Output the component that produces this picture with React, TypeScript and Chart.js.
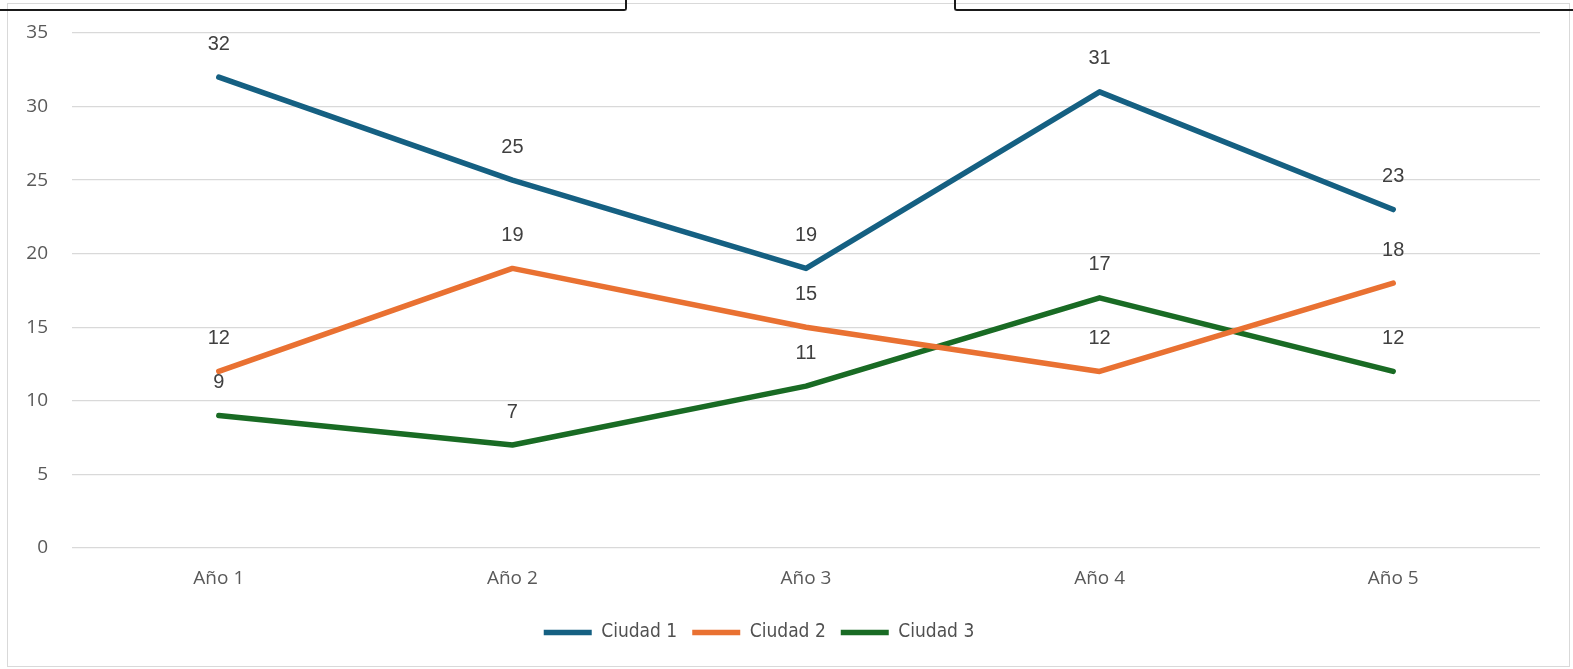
import React, { useEffect, useRef } from "react";
import { Chart, registerables } from "chart.js";

Chart.register(...registerables);

const categories = ["Año 1", "Año 2", "Año 3", "Año 4", "Año 5"];
const ciudad1 = [32, 25, 19, 31, 23];
const ciudad2 = [12, 19, 15, 12, 18];
const ciudad3 = [9, 7, 11, 17, 12];
const seriesNames = ["Ciudad 1", "Ciudad 2", "Ciudad 3"];
const seriesColors = ["#156082", "#E97132", "#196B24"];

const dataLabelPlugin = {
  id: "dataLabels",
  afterDatasetsDraw(chart: any) {
    const ctx = chart.ctx;
    ctx.save();
    ctx.font = "20px 'Liberation Sans', Arial, sans-serif";
    ctx.fillStyle = "#404040";
    ctx.textAlign = "center";
    ctx.textBaseline = "middle";
    chart.data.datasets.forEach((ds: any, i: number) => {
      const meta = chart.getDatasetMeta(i);
      meta.data.forEach((pt: any, j: number) => {
        ctx.fillText(String(ds.data[j]), pt.x, pt.y - 33);
      });
    });
    ctx.restore();
  },
};

const legendShiftPlugin = {
  id: "legendShift",
  afterLayout(chart: any) {
    if (chart.legend) {
      chart.legend.left -= 15;
      chart.legend.right -= 15;
    }
  },
};

export default function App() {
  const ref = useRef<HTMLCanvasElement>(null);
  useEffect(() => {
    if (!ref.current) return;
    const series = [ciudad1, ciudad2, ciudad3];
    const chart = new Chart(ref.current, {
      type: "line",
      data: {
        labels: categories,
        datasets: series.map((d, i) => ({
          label: seriesNames[i],
          data: d,
          borderColor: seriesColors[i],
          backgroundColor: seriesColors[i],
          borderWidth: 5.5,
          borderCapStyle: "round",
          borderJoinStyle: "round",
          pointRadius: 0,
          pointHoverRadius: 0,
          tension: 0,
          fill: false,
        })),
      },
      options: {
        responsive: false,
        animation: false,
        layout: { padding: { left: 0, right: 29, top: 29, bottom: 14 } },
        plugins: {
          tooltip: { enabled: false },
          legend: {
            position: "bottom",
            labels: {
              usePointStyle: true,
              pointStyle: "line",
              pointStyleWidth: 48,
              padding: 15,
              color: "#505050",
              font: { family: "'Liberation Sans Narrow', 'DejaVu Sans Condensed', sans-serif", size: 19 },
            },
          },
        },
        scales: {
          x: {
            offset: true,
            grid: { display: false, drawTicks: false },
            border: { display: false },
            ticks: {
              color: "#595959",
              padding: 19,
              font: { family: "'Open Sans', sans-serif", size: 19 },
            },
            afterFit(scale: any) {
              scale.height = 60;
            },
          },
          y: {
            min: 0,
            max: 35,
            ticks: {
              stepSize: 5,
              color: "#595959",
              padding: 24,
              font: { family: "'Open Sans', sans-serif", size: 19 },
            },
            grid: { color: "#d9d9d9", lineWidth: 1.3, drawTicks: false },
            border: { display: false },
            afterFit(scale: any) {
              scale.width = 64;
              scale.paddingTop = 0;
              scale.paddingBottom = 0;
            },
          },
        },
      },
      plugins: [dataLabelPlugin, legendShiftPlugin],
    } as any);
    return () => chart.destroy();
  }, []);

  return (
    <div>
      <div
        style={{
          position: "absolute",
          left: 7,
          top: 3,
          width: 1561,
          height: 662,
          border: "1px solid #d9d9d9",
          background: "#fff",
        }}
      >
        <canvas ref={ref} width={1561} height={662} style={{ display: "block" }} />
      </div>
      <div
        style={{
          position: "absolute",
          left: 0,
          top: -4,
          width: 625,
          height: 13,
          borderRight: "2px solid #1a1a1a",
          borderBottom: "2.5px solid #1a1a1a",
          borderBottomRightRadius: 3,
        }}
      />
      <div
        style={{
          position: "absolute",
          left: 954,
          top: -4,
          width: 619,
          height: 13,
          borderLeft: "2px solid #1a1a1a",
          borderBottom: "2.5px solid #1a1a1a",
          borderBottomLeftRadius: 3,
        }}
      />
    </div>
  );
}
